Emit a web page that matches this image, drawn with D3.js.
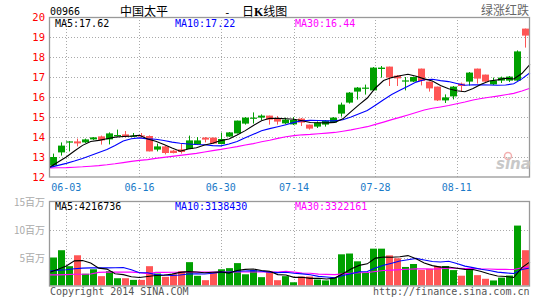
<!DOCTYPE html>
<html><head><meta charset="utf-8">
<script src="https://cdn.jsdelivr.net/npm/d3@7/dist/d3.min.js"></script>
<style>body{margin:0;background:#fff}svg{display:block}</style>
</head><body><svg id="c" width="545" height="300"></svg>
<script>
const dates = ["05-29","05-30","06-03","06-04","06-05","06-06","06-09","06-10","06-11","06-12",
 "06-13","06-16","06-17","06-18","06-19","06-20","06-23","06-24","06-25","06-26",
 "06-27","06-30","07-02","07-03","07-04","07-07","07-08","07-09","07-10","07-11",
 "07-14","07-15","07-16","07-17","07-18","07-21","07-22","07-23","07-24","07-25",
 "07-28","07-29","07-30","07-31","08-01","08-04","08-05","08-06","08-07","08-08",
 "08-11","08-12","08-13","08-14","08-15","08-18","08-19","08-20","08-21","08-22"];
const opens = [12.57,13.23,13.75,13.78,13.73,13.88,14.03,13.88,14.08,14.13,
 14.05,14.08,14.05,13.37,13.53,13.32,13.38,13.40,13.62,13.97,
 13.97,13.65,14.02,14.18,14.67,14.95,14.97,15.07,14.92,14.68,
 14.63,14.92,14.62,14.52,14.62,14.72,15.17,15.72,16.27,16.45,
 16.33,17.40,17.52,17.07,16.77,16.77,17.42,16.77,16.52,15.83,
 16.03,16.67,16.77,17.42,17.12,16.63,16.82,16.82,16.82,19.42];
const closes = [13.00,13.57,13.78,13.68,13.88,13.98,13.83,14.18,14.10,14.03,
 14.07,14.03,13.28,13.53,13.20,13.20,13.25,13.83,13.83,13.87,
 13.67,13.90,14.23,14.82,14.97,14.97,15.07,14.87,14.77,14.87,
 14.85,14.72,14.42,14.72,14.82,14.97,15.62,16.22,16.47,16.47,
 17.47,17.47,16.97,16.93,16.83,17.00,16.80,16.43,15.83,15.98,
 16.52,16.55,17.22,16.92,16.77,16.82,16.97,17.02,18.28,19.07];
const highs = [13.17,13.73,13.80,13.92,13.92,14.00,14.07,14.23,14.37,14.30,
 14.20,14.20,14.08,13.67,13.55,13.35,13.67,14.07,14.00,14.00,
 13.97,14.22,14.25,14.82,15.00,15.23,15.13,15.07,15.05,14.97,
 15.00,14.95,14.62,14.78,14.85,15.00,15.72,16.25,16.50,16.62,
 17.50,17.55,17.52,17.10,17.00,17.02,17.42,16.77,16.52,16.13,
 16.55,16.72,17.25,17.42,17.12,16.97,17.02,17.05,18.33,19.42];
const lows = [12.55,13.07,13.28,13.53,13.70,13.85,13.62,13.63,14.02,13.97,
 14.00,13.95,13.28,13.28,13.13,13.18,13.17,13.40,13.60,13.73,
 13.65,13.63,14.00,14.18,14.62,14.67,14.85,14.62,14.62,14.63,
 14.60,14.55,14.37,14.45,14.52,14.70,15.02,15.67,15.87,16.12,
 16.30,16.97,16.55,16.55,16.33,16.75,16.58,16.27,15.80,15.70,
 15.88,16.27,16.57,16.67,16.75,16.60,16.70,16.75,16.80,18.47];
// volume, millions of shares
const volumes = [5.0,6.3,3.45,5.4,2.1,2.9,1.67,2.56,1.3,1.3,
 1.0,1.0,3.45,2.14,1.55,2.0,2.56,4.17,1.73,0.95,
 2.38,2.9,3.1,4.0,2.0,2.74,1.49,2.56,0.95,1.67,
 0.58,1.6,1.6,1.06,0.91,1.44,5.57,5.71,4.32,2.3,
 6.58,6.58,5.38,4.86,3.31,3.84,2.78,2.98,3.48,3.48,
 2.75,1.75,2.75,1.85,1.2,0.9,1.4,1.78,10.7,6.3];
// moving-average values before enough in-window data exists
const ma5Lead = [12.5,12.75,13.0,13.3];
const ma10Lead = [12.48,12.58,12.68,12.8,12.93,13.07,13.22,13.38,13.58];
const ma30Lead = [12.45,12.46,12.47,12.49,12.51,12.54,12.57,12.61,12.66,12.72,
 12.78,12.83,12.87,12.93,12.98,13.03,13.08,13.13,13.18,13.25,
 13.32,13.38,13.45,13.52,13.6,13.67,13.76,13.84,13.93];
const vma5Lead = [2.35,2.9,3.5,4.4];
const vma10Lead = [2.6,2.75,2.8,3.0,3.1,3.15,3.15,3.15,3.18];
const vma30Lead = [1.9,1.9,1.95,2.0,2.0,2.05,2.35,2.38,2.38,2.38,
 2.38,2.3,2.1,2.35,2.35,2.36,2.36,2.37,2.38,2.38,
 2.38,2.4,2.4,2.4,2.42,2.42,2.42,2.42,2.42];
const tickDates = ["06-03","06-16","06-30","07-14","07-28","08-11"];
const priceTicks = [12,13,14,15,16,17,18,19,20];
const volTicks = [5,10,15];
const volTickLabels = ["5百万","10百万","15百万"];
const priceLegend = [["MA5:","17.62"],["MA10:","17.22"],["MA30:","16.44"]];
const volLegend = [["MA5:","4216736"],["MA10:","3138430"],["MA30:","3322161"]];

const svg = d3.select("#c");
const L = 50, R = 530;
const n = dates.length;
const mono = "'DejaVu Sans Mono', monospace";
const cjk = "'Noto Sans CJK SC', sans-serif";
const UP = "#00a000", DOWN = "#ff5555";
const maColors = ["#000000","#0000ff","#ff00ff"];

function ma(arr, p, lead){
  return arr.map((v,i)=> i < p-1 ? lead[i] : d3.mean(arr.slice(i-p+1,i+1)));
}

const xl = d3.scaleLinear().domain([0,n-1]).range([L,R]);   // line points / grid
const xb = d3.scaleLinear().domain([0,n]).range([L,R]);     // bar slots
const yp = d3.scaleLinear().domain([12,20]).range([177,17]);
const yv = d3.scaleLinear().domain([0,15]).range([285.5,201.5]);

const tickIdx = tickDates.map(t=>dates.indexOf(t));

// ---- grids ----
function grid(y0,y1,hVals,ys){
  const g = svg.append("g").attr("stroke","#aaa").attr("stroke-dasharray","1,2").attr("stroke-width",1);
  hVals.forEach(v=>g.append("line").attr("x1",L).attr("x2",R).attr("y1",Math.round(ys(v))+0.5).attr("y2",Math.round(ys(v))+0.5));
  tickIdx.forEach(i=>g.append("line").attr("x1",Math.round(xl(i))+0.5).attr("x2",Math.round(xl(i))+0.5).attr("y1",y0).attr("y2",y1));
}
grid(17,177,priceTicks.slice(1,-1),yp);
grid(201,286,[5,10],yv);

// ---- price axis labels ----
svg.append("g").selectAll("text").data(priceTicks).join("text")
  .attr("x",45).attr("y",d=>yp(d)+4).attr("text-anchor","end")
  .attr("fill","#ff0000").attr("font-family",mono).attr("font-size",10.5).text(d=>d);
svg.append("g").selectAll("text").data(volTicks).join("text")
  .attr("x",45).attr("y",d=>yv(d)+4).attr("text-anchor","end")
  .attr("fill","#aaa").attr("font-family",cjk).attr("font-size",10).text((d,i)=>volTickLabels[i]);

// date labels
svg.append("g").selectAll("text").data(tickIdx).join("text")
  .attr("x",d=>xl(d)).attr("y",191).attr("text-anchor","middle")
  .attr("fill","#1a7ac8").attr("font-family",mono).attr("font-size",10).text((d,i)=>tickDates[i]);

// ---- candles ----
const cg = svg.append("g");
d3.range(n).forEach(i=>{
  const up = closes[i] >= opens[i];
  const col = up ? UP : DOWN;
  const cx = xb(i)+3.5;
  cg.append("line").attr("x1",cx).attr("x2",cx).attr("y1",yp(highs[i])).attr("y2",yp(lows[i])).attr("stroke",col).attr("stroke-width",1);
  const top = yp(Math.max(opens[i],closes[i])), bot = yp(Math.min(opens[i],closes[i]));
  cg.append("rect").attr("x",xb(i)).attr("width",7).attr("y",top).attr("height",Math.max(1.2,bot-top)).attr("fill",col);
});

// ---- volume bars ----
svg.append("g").selectAll("rect").data(volumes).join("rect")
  .attr("x",(d,i)=>xb(i)).attr("width",7)
  .attr("y",d=>yv(d)).attr("height",d=>yv(0)-yv(d))
  .attr("fill",(d,i)=>closes[i]>=opens[i]?UP:DOWN);

// ---- MA lines ----
const line = (ys)=>d3.line().x((d,i)=>xl(i)).y(d=>ys(d));
const pMA = [ma(closes,5,ma5Lead), ma(closes,10,ma10Lead), ma(closes,30,ma30Lead)];
const vMA = [ma(volumes,5,vma5Lead), ma(volumes,10,vma10Lead), ma(volumes,30,vma30Lead)];
[2,1,0].forEach(j=>{
  svg.append("path").attr("d",line(yp)(pMA[j])).attr("fill","none").attr("stroke",maColors[j]).attr("stroke-width",1.1);
  svg.append("path").attr("d",line(yv)(vMA[j])).attr("fill","none").attr("stroke",maColors[j]).attr("stroke-width",1.1);
});

// ---- borders ----
svg.append("rect").attr("x",49.5).attr("y",17.5).attr("width",480).attr("height",159.5).attr("fill","none").attr("stroke","#999").attr("stroke-width",1.3);
svg.append("rect").attr("x",49.5).attr("y",201.5).attr("width",480).attr("height",84.5).attr("fill","none").attr("stroke","#999").attr("stroke-width",1.3);

// ---- legends ----
const legX = [55,175,295];
function legend(y,items){
  items.forEach((it,j)=>svg.append("text").attr("x",legX[j]).attr("y",y)
    .attr("fill",maColors[j]).attr("font-family",mono).attr("font-size",10).text(it[0]+it[1]));
}
legend(27,priceLegend);
legend(210,volLegend);

// ---- titles ----
svg.append("text").attr("x",50).attr("y",15).attr("font-family",mono).attr("font-size",10).attr("fill","#000").text("00966");
svg.append("text").attr("x",120).attr("y",15.5).attr("font-family",cjk).attr("font-size",12).attr("fill","#000").text("中国太平");
svg.append("text").attr("x",224).attr("y",15.5).attr("font-family",mono).attr("font-size",11).attr("fill","#000").text("-");
const t2 = svg.append("text").attr("x",242).attr("y",15.5).attr("font-family",cjk).attr("font-size",12).attr("fill","#000");
t2.append("tspan").text("日");
t2.append("tspan").attr("font-family","'Liberation Serif', serif").attr("font-weight","bold").text("K");
t2.append("tspan").text("线图");
svg.append("text").attr("x",529).attr("y",14.5).attr("text-anchor","end").attr("font-family",cjk).attr("font-size",12).attr("fill","#666").text("绿涨红跌");

// watermark
svg.append("circle").attr("cx",508).attr("cy",156).attr("r",3.5).attr("fill","none").attr("stroke","#f3b0b0").attr("stroke-width",1.5);
svg.append("text").attr("x",496).attr("y",169).attr("font-family","'DejaVu Sans', sans-serif").attr("font-style","italic").attr("font-weight","bold").attr("font-size",15).attr("fill","#c8c8c8").text("sina");

// footer
svg.append("text").attr("x",50).attr("y",295).attr("font-family",mono).attr("font-size",10).attr("fill","#555").text("Copyright 2014 SINA.COM");
svg.append("text").attr("x",529.5).attr("y",295).attr("text-anchor","end").attr("font-family",mono).attr("font-size",10).attr("fill","#555").text("http://finance.sina.com.cn");
</script></body></html>
